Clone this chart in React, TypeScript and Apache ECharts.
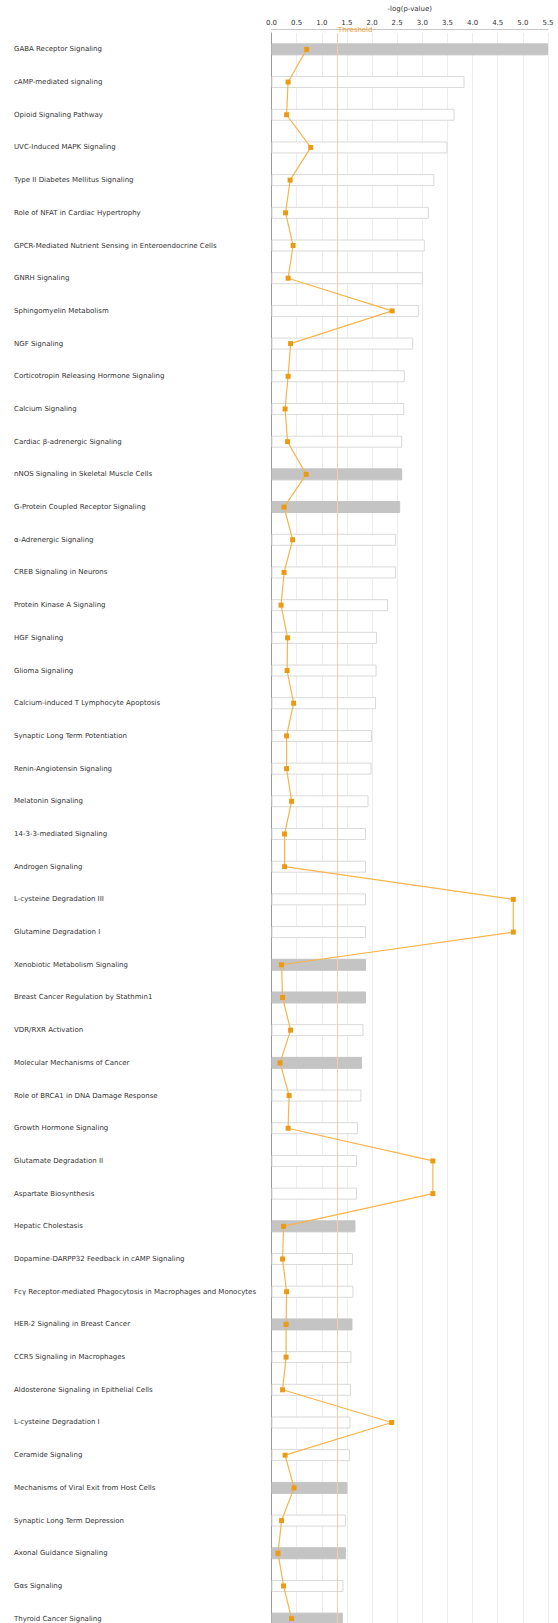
import React, { useEffect, useRef } from "react";
import * as echarts from "echarts";

const pathways: string[] = [
  "GABA Receptor Signaling",
  "cAMP-mediated signaling",
  "Opioid Signaling Pathway",
  "UVC-Induced MAPK Signaling",
  "Type II Diabetes Mellitus Signaling",
  "Role of NFAT in Cardiac Hypertrophy",
  "GPCR-Mediated Nutrient Sensing in Enteroendocrine Cells",
  "GNRH Signaling",
  "Sphingomyelin Metabolism",
  "NGF Signaling",
  "Corticotropin Releasing Hormone Signaling",
  "Calcium Signaling",
  "Cardiac β-adrenergic Signaling",
  "nNOS Signaling in Skeletal Muscle Cells",
  "G-Protein Coupled Receptor Signaling",
  "α-Adrenergic Signaling",
  "CREB Signaling in Neurons",
  "Protein Kinase A Signaling",
  "HGF Signaling",
  "Glioma Signaling",
  "Calcium-induced T Lymphocyte Apoptosis",
  "Synaptic Long Term Potentiation",
  "Renin-Angiotensin Signaling",
  "Melatonin Signaling",
  "14-3-3-mediated Signaling",
  "Androgen Signaling",
  "L-cysteine Degradation III",
  "Glutamine Degradation I",
  "Xenobiotic Metabolism Signaling",
  "Breast Cancer Regulation by Stathmin1",
  "VDR/RXR Activation",
  "Molecular Mechanisms of Cancer",
  "Role of BRCA1 in DNA Damage Response",
  "Growth Hormone Signaling",
  "Glutamate Degradation II",
  "Aspartate Biosynthesis",
  "Hepatic Cholestasis",
  "Dopamine-DARPP32 Feedback in cAMP Signaling",
  "Fcγ Receptor-mediated Phagocytosis in Macrophages and Monocytes",
  "HER-2 Signaling in Breast Cancer",
  "CCR5 Signaling in Macrophages",
  "Aldosterone Signaling in Epithelial Cells",
  "L-cysteine Degradation I",
  "Ceramide Signaling",
  "Mechanisms of Viral Exit from Host Cells",
  "Synaptic Long Term Depression",
  "Axonal Guidance Signaling",
  "Gαs Signaling",
  "Thyroid Cancer Signaling",
];

const negLogP: number[] = [
  5.5, 3.84, 3.64, 3.5, 3.24, 3.13, 3.05, 3.01, 2.93, 2.82,
  2.65, 2.64, 2.6, 2.6, 2.56, 2.48, 2.48, 2.32, 2.1, 2.09,
  2.08, 2.0, 1.99, 1.93, 1.88, 1.88, 1.88, 1.88, 1.88, 1.88,
  1.83, 1.8, 1.79, 1.72, 1.7, 1.7, 1.67, 1.62, 1.63, 1.61,
  1.59, 1.58, 1.57, 1.56, 1.51, 1.48, 1.48, 1.43, 1.42,
];

const ratio: number[] = [
  0.7, 0.33, 0.3, 0.78, 0.37, 0.28, 0.43, 0.33, 2.4, 0.38,
  0.33, 0.27, 0.32, 0.69, 0.25, 0.42, 0.25, 0.19, 0.32, 0.31,
  0.44, 0.3, 0.3, 0.4, 0.26, 0.26, 4.81, 4.81, 0.2, 0.22,
  0.38, 0.17, 0.35, 0.33, 3.21, 3.21, 0.24, 0.22, 0.3, 0.29,
  0.29, 0.22, 2.39, 0.27, 0.45, 0.2, 0.13, 0.24, 0.4,
];

const shaded: boolean[] = [
  true, false, false, false, false, false, false, false, false, false,
  false, false, false, true, true, false, false, false, false, false,
  false, false, false, false, false, false, false, false, true, true,
  false, true, false, false, false, false, true, false, false, true,
  false, false, false, false, true, false, true, false, true,
];

const xTicks = { min: 0, max: 5.5, interval: 0.5 };
const threshold = 1.3;

export default function App() {
  const ref = useRef<HTMLDivElement>(null);

  useEffect(() => {
    if (!ref.current) return;
    const chart = echarts.init(ref.current, undefined, { renderer: "svg" });
    const font = "DejaVu Sans";
    chart.setOption({
      animation: false,
      backgroundColor: "#ffffff",
      grid: { left: 271.5, right: 10, top: 33, bottom: 5, containLabel: false },
      xAxis: {
        type: "value",
        position: "top",
        min: xTicks.min,
        max: xTicks.max,
        interval: xTicks.interval,
        offset: 3.5,
        name: "-log(p-value)",
        nameLocation: "middle",
        nameGap: 17,
        nameTextStyle: { fontSize: 7, color: "#333", fontFamily: font },
        axisLine: { show: true, lineStyle: { color: "#c8c8c8", width: 1 } },
        axisTick: { show: false },
        axisLabel: {
          fontSize: 7,
          color: "#333",
          fontFamily: font,
          margin: 3,
          formatter: (v: number) => v.toFixed(1),
        },
        splitLine: { show: true, lineStyle: { color: "#ededed", width: 1 } },
      },
      yAxis: {
        type: "category",
        inverse: true,
        data: pathways,
        axisLine: { show: true, lineStyle: { color: "#9a9a9a", width: 1 } },
        axisTick: { show: false },
        axisLabel: {
          align: "left",
          margin: 257.5,
          fontSize: 7,
          color: "#333",
          fontFamily: font,
          interval: 0,
        },
        splitLine: { show: false },
      },
      graphic: [
        {
          type: "text",
          left: 338,
          top: 26.5,
          style: { text: "Threshold", fontSize: 7, fill: "#f0a030", fontFamily: font },
          z: 10,
        },
      ],
      series: [
        {
          type: "bar",
          barWidth: 12,
          data: negLogP.map((v, i) => ({
            value: v,
            itemStyle: shaded[i]
              ? { color: "#c4c4c4", borderColor: "#c4c4c4", borderWidth: 1 }
              : { color: "#ffffff", borderColor: "#d9d9d9", borderWidth: 1 },
          })),
          markLine: {
            silent: true,
            symbol: "none",
            label: { show: false },
            lineStyle: { color: "#f6cda6", width: 1, type: "solid" },
            data: [{ xAxis: threshold }],
          },
          z: 2,
        },
        {
          type: "line",
          data: ratio,
          symbol: "rect",
          symbolSize: 5,
          itemStyle: { color: "#eb9a16" },
          lineStyle: { color: "#f6b44c", width: 1.2 },
          z: 5,
        },
      ],
    });
    return () => chart.dispose();
  }, []);

  return (
    <div style={{ position: "absolute", left: 0, top: 0, width: 558, height: 1623, overflow: "hidden" }}>
      <div ref={ref} style={{ width: 558, height: 1640 }} />
    </div>
  );
}
